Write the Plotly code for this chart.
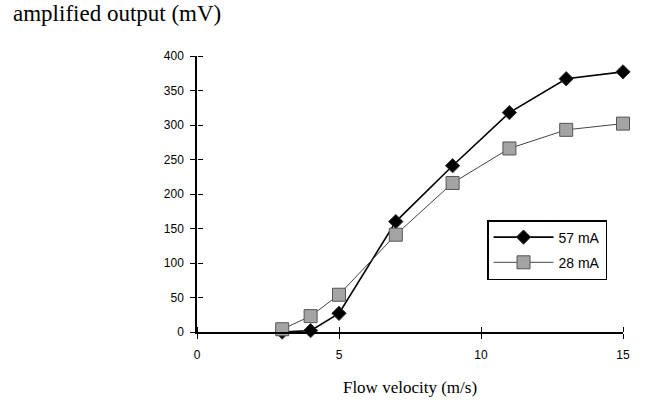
import plotly.graph_objects as go

velocity = [3, 4, 5, 7, 9, 11, 13, 15]
out_57mA = [0, 2, 27, 160, 241, 318, 367, 377]
out_28mA = [4, 23, 54, 141, 216, 266, 293, 302]
x_ticks = [0, 5, 10, 15]
y_ticks = [0, 50, 100, 150, 200, 250, 300, 350, 400]

fig = go.Figure()
fig.add_trace(go.Scatter(
    x=velocity, y=out_57mA, name="57 mA", mode="lines+markers",
    line=dict(color="black", width=1.6),
    marker=dict(symbol="diamond", size=11, color="black", line=dict(color="#333", width=1)),
    cliponaxis=False, legendgroup="a"))
# 28 mA drawn on overlay axes (same ranges) so the overlay axes carry the inward ticks
fig.add_trace(go.Scatter(
    x=velocity, y=out_28mA, name="28 mA", mode="lines+markers",
    xaxis="x2", yaxis="y2",
    line=dict(color="#444444", width=1),
    marker=dict(symbol="square", size=13, color="#a4a4a4",
                line=dict(color="#555555", width=1)),
    cliponaxis=False, legendgroup="b"))

tickfont = dict(family="Liberation Sans, Arial, sans-serif", size=12, color="black")
fig.update_layout(
    width=645, height=405,
    margin=dict(l=197, r=22, t=56, b=73),
    paper_bgcolor="white", plot_bgcolor="white",
    title=dict(text="amplified output (mV)", xref="container", x=13/645, xanchor="left",
               yref="container", y=1 - 5/405, yanchor="top",
               font=dict(family="Liberation Serif, Times New Roman, serif", size=23, color="black"),
               pad=dict(t=0, l=0)),
    xaxis=dict(range=[0, 15], tickvals=x_ticks, ticks="outside", ticklen=5, tickwidth=1.3,
               tickcolor="black", showline=True, linecolor="black", linewidth=1.5,
               showgrid=False, zeroline=False, tickfont=tickfont, ticklabelstandoff=6,
               title=dict(text="Flow velocity (m/s)", standoff=20,
                          font=dict(family="Liberation Serif, Times New Roman, serif", size=17, color="black"))),
    yaxis=dict(range=[0, 400], tickvals=y_ticks, ticks="outside", ticklen=5, tickwidth=1.3,
               tickcolor="black", showline=True, linecolor="black", linewidth=1.5,
               showgrid=False, zeroline=False, tickfont=tickfont, ticklabelstandoff=4),
    # overlay axes placed on the main axis lines but facing inward -> ticks cross the axes
    xaxis2=dict(range=[0, 15], tickvals=x_ticks, ticks="outside", ticklen=5, tickwidth=1.3,
                tickcolor="black", overlaying="x", anchor="free", position=0, side="top",
                showticklabels=False, showgrid=False, zeroline=False, showline=False),
    yaxis2=dict(range=[0, 400], tickvals=y_ticks, ticks="outside", ticklen=5, tickwidth=1.3,
                tickcolor="black", overlaying="y", anchor="free", position=0, side="right",
                showticklabels=False, showgrid=False, zeroline=False, showline=False),
    legend=dict(x=(487 - 197) / 426, y=(332 - 220) / 276, xanchor="left", yanchor="top",
                bordercolor="black", borderwidth=1.5, bgcolor="white",
                font=dict(family="Liberation Sans, Arial, sans-serif", size=14, color="black"),
                itemwidth=60, tracegroupgap=4),
    showlegend=True,
)
fig.write_html("out.html")
